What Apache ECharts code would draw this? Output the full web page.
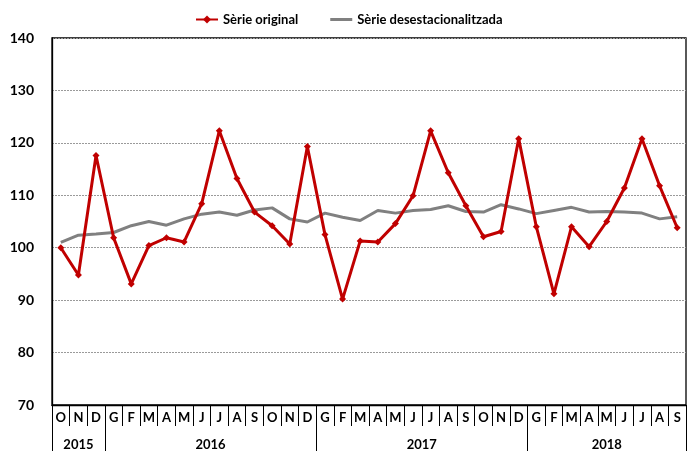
<!DOCTYPE html>
<html>
<head>
<meta charset="utf-8">
<script src="https://cdn.jsdelivr.net/npm/echarts@6/dist/echarts.min.js"></script>
<style>
  html, body { margin: 0; padding: 0; background: #fff; }
  #chart { width: 688px; height: 451px; }
</style>
</head>
<body>
<div id="chart"></div>
<script>
// months Oct 2015 .. Sep 2018 (Catalan initials)
const months = ["O","N","D",
  "G","F","M","A","M","J","J","A","S","O","N","D",
  "G","F","M","A","M","J","J","A","S","O","N","D",
  "G","F","M","A","M","J","J","A","S"];
const years = ["2015", "2016", "2017", "2018"];
// year centres / boundaries in month units on the helper axis
const yearCenters = [1.5, 9, 21, 31.5];
const yearBounds = [0, 3, 15, 27, 36];

const original = [100.0, 94.8, 117.6,
  101.9, 93.1, 100.4, 101.9, 101.1, 108.4, 122.3, 113.2, 106.8, 104.2, 100.7, 119.3,
  102.5, 90.2, 101.3, 101.1, 104.6, 109.9, 122.3, 114.3, 108.0, 102.1, 103.1, 120.8,
  104.0, 91.2, 104.0, 100.2, 105.0, 111.4, 120.8, 111.8, 103.8];
const adjusted = [101.0, 102.4, 102.6,
  102.9, 104.2, 105.0, 104.3, 105.5, 106.4, 106.8, 106.2, 107.2, 107.6, 105.5, 104.9,
  106.6, 105.8, 105.2, 107.1, 106.6, 107.1, 107.3, 108.0, 106.9, 106.8, 108.2, 107.4,
  106.5, 107.1, 107.7, 106.8, 106.9, 106.8, 106.6, 105.5, 105.9];

const font = "Lato, 'Liberation Sans', sans-serif";
const chart = echarts.init(document.getElementById("chart"));

chart.setOption({
  animation: false,
  backgroundColor: "#fff",
  textStyle: { fontFamily: font },
  legend: {
    top: 8,
    left: 190,
    itemWidth: 22,
    itemHeight: 10,
    itemGap: 32,
    textStyle: { fontFamily: font, fontSize: 13, fontWeight: "bold", color: "#000" },
    data: [
      { name: "Sèrie original" },
      // plain grey bar, no marker
      { name: "Sèrie desestacionalitzada", icon: "path://M0,0 L22,0 L22,3 L0,3 Z" },
    ],
  },
  grid: {
    left: 52,
    right: 2,
    top: 38,
    bottom: 46,
    show: true,
    borderColor: "#000",
    borderWidth: 1.3,
    containLabel: false,
  },
  xAxis: [
    {
      type: "category",
      data: months,
      position: "bottom",
      boundaryGap: true,
      axisLine: { onZero: false, lineStyle: { color: "#000", width: 1.3 } },
      axisTick: { show: true, interval: 0, length: 21, lineStyle: { color: "#000", width: 1 } },
      axisLabel: {
        interval: 0,
        margin: 6,
        fontFamily: font,
        fontSize: 13,
        fontWeight: "bold",
        color: "#000",
      },
    },
    {
      type: "value",
      position: "bottom",
      min: 0,
      max: 36,
      splitLine: { show: false },
      axisLine: { show: false, onZero: false },
      axisTick: {
        show: true,
        customValues: yearBounds,
        length: 46,
        lineStyle: { color: "#000", width: 1 },
      },
      axisLabel: {
        customValues: yearCenters,
        margin: 33,
        fontFamily: font,
        fontSize: 13,
        fontWeight: "bold",
        color: "#000",
        formatter: (v) => years[yearCenters.indexOf(v)] || "",
      },
    },
  ],
  yAxis: {
    type: "value",
    min: 70,
    max: 140,
    interval: 10,
    axisLine: { show: true, lineStyle: { color: "#000", width: 1.3 } },
    axisTick: { show: false },
    axisLabel: {
      margin: 18,
      fontFamily: font,
      fontSize: 14,
      fontWeight: "bold",
      color: "#000",
    },
    splitLine: { lineStyle: { color: "#9a9a9a", type: [2, 1], width: 1 } },
  },
  series: [
    {
      name: "Sèrie desestacionalitzada",
      type: "line",
      xAxisIndex: 0,
      data: adjusted,
      symbol: "none",
      lineStyle: { color: "#808080", width: 3 },
      itemStyle: { color: "#808080" },
      z: 2,
    },
    {
      name: "Sèrie original",
      type: "line",
      xAxisIndex: 0,
      data: original,
      symbol: "diamond",
      symbolSize: 7,
      showAllSymbol: true,
      lineStyle: { color: "#c00000", width: 3 },
      itemStyle: { color: "#c00000" },
      z: 3,
    },
  ],
});
</script>
</body>
</html>
